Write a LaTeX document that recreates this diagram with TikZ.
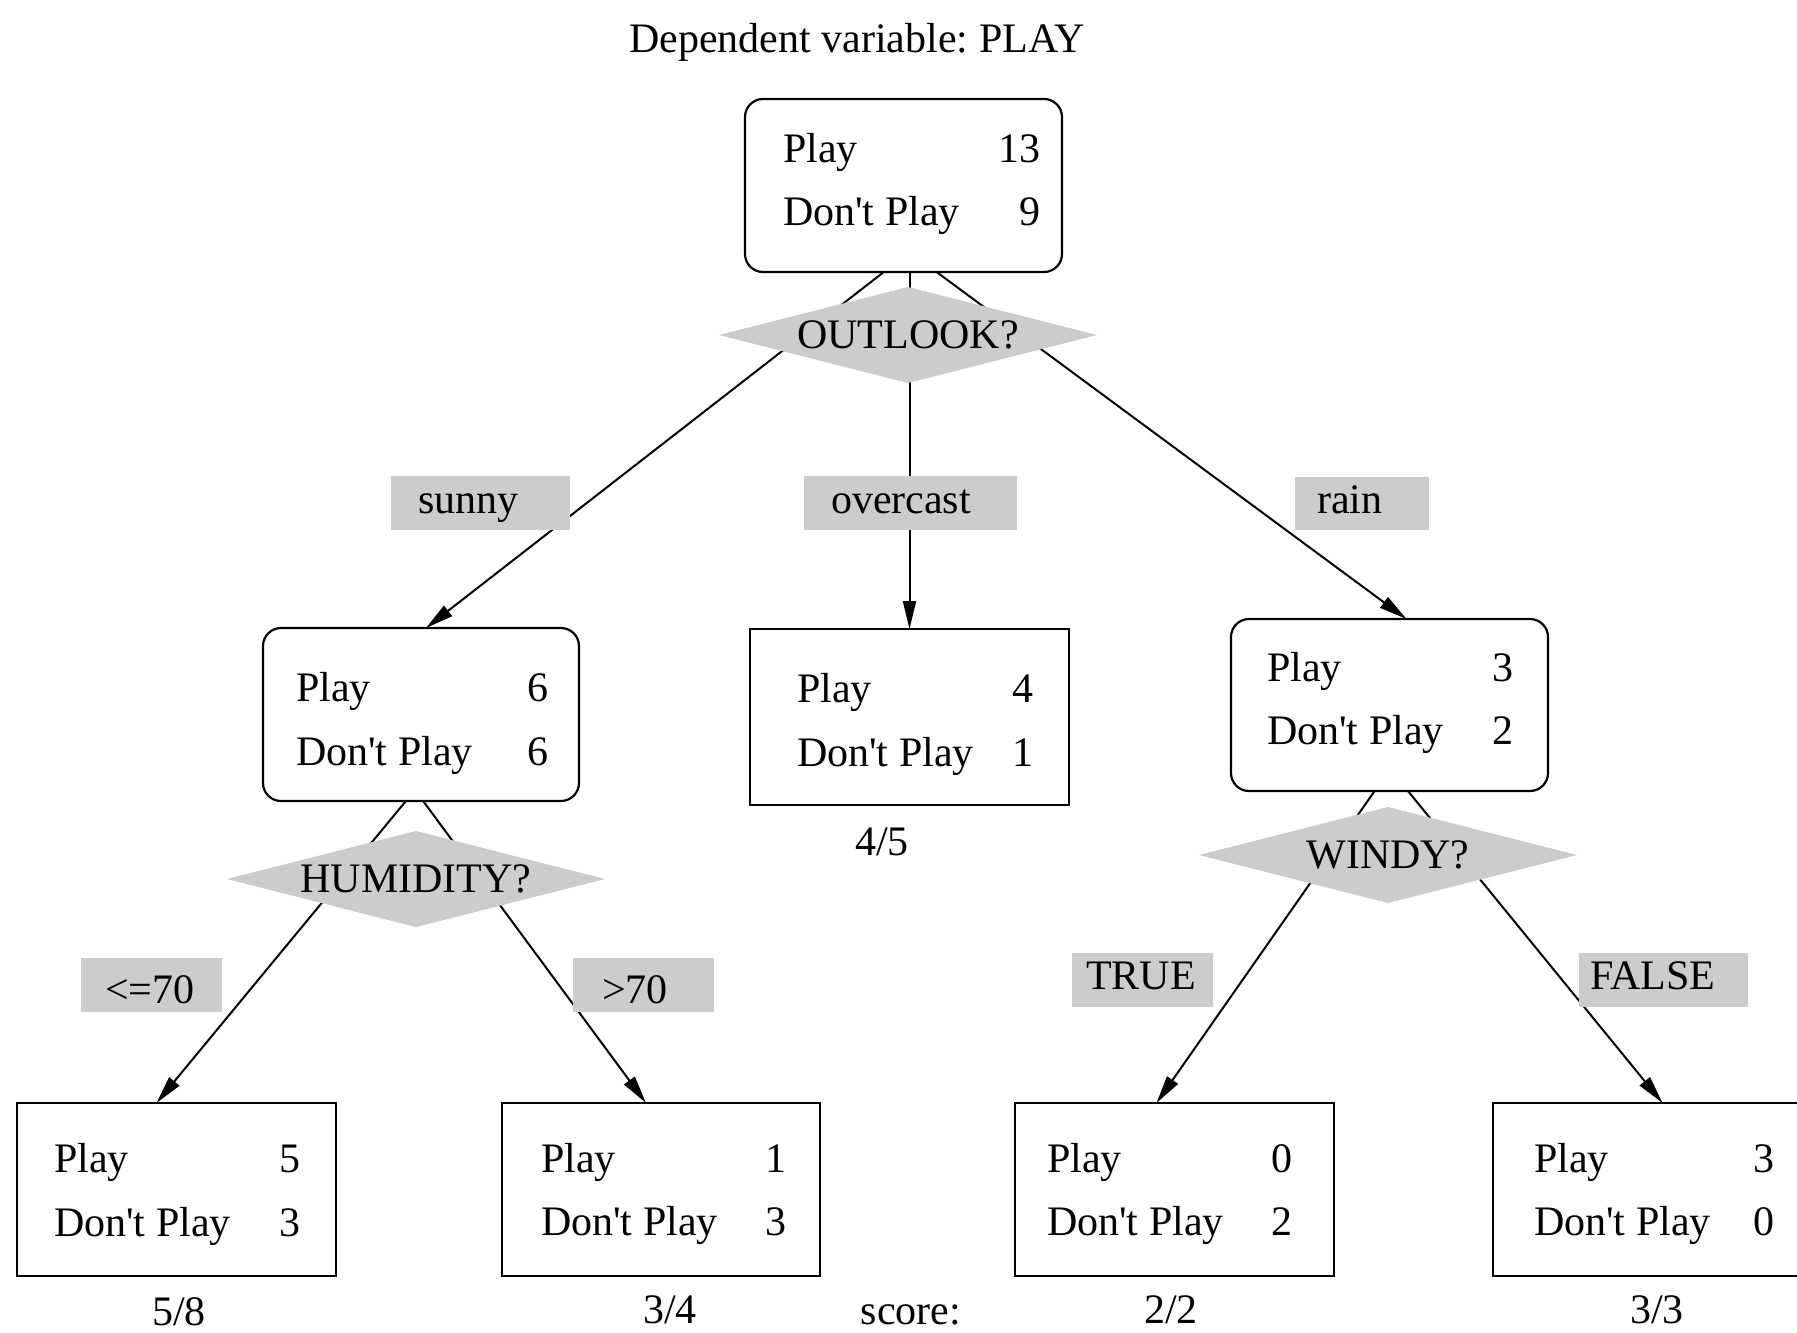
\documentclass[tikz,border=0pt]{standalone}
\usepackage{fontspec}
\setmainfont{Liberation Serif}[Ligatures=TeXOff]
\usetikzlibrary{arrows.meta,shapes.geometric,fit}
\pgfdeclarelayer{background}
\pgfsetlayers{background,main}
\definecolor{splitgray}{HTML}{CCCCCC}
\frenchspacing

% two rows of class counts inside a box: name, left x, right x, baseline 1, baseline 2, play, don't play
\newcommand\tallyrows[7]{%
  \node[txt, anchor=base west] (#1-p)  at (#2,#4) {Play};
  \node[txt, anchor=base east] (#1-pv) at (#3,#4) {#6};
  \node[txt, anchor=base west] (#1-d)  at (#2,#5) {Don't Play};
  \node[txt, anchor=base east] (#1-dv) at (#3,#5) {#7};
}

\begin{document}
\begin{tikzpicture}[x=1pt,y=-1pt,
  txt/.style={inner sep=0pt, outer sep=0pt, font=\fontsize{42pt}{50pt}\selectfont},
  inner/.style={draw=black, line width=2.2pt, fill=white, rounded corners=18pt, inner sep=0pt, outer sep=0pt},
  leaf/.style={draw=black, line width=2.2pt, fill=white, inner sep=0pt, outer sep=0pt},
  split/.style={diamond, aspect=3.94, fill=splitgray, draw=none, inner sep=0pt, outer sep=0pt,
    minimum width=378pt, minimum height=96pt, font=\fontsize{42pt}{50pt}\selectfont},
  branch/.style={fill=splitgray, draw=none, inner sep=0pt, outer sep=0pt},
  edge/.style={draw=black, line width=2pt, -{Triangle[length=28pt,width=13pt]}}]

\useasboundingbox (0,0) rectangle (1797,1333);
\clip (0,0) rectangle (1797,1333);
\begin{pgfonlayer}{background}
  \fill[white] (0,0) rectangle (1797,1333);
\end{pgfonlayer}

% title
\node[txt, anchor=base] (title) at (857,52) {Dependent variable: PLAY};

% boxes
\node[inner, fit={(745,99) (1062,272)}]   (root)     {};
\node[inner, fit={(263,628) (579,801)}]   (sunnyn)   {};
\node[leaf,  fit={(750,629) (1069,805)}]  (overn)    {};
\node[inner, fit={(1231,619) (1548,791)}] (rainn)    {};
\node[leaf,  fit={(17,1103) (336,1276)}]  (leafa)    {};
\node[leaf,  fit={(502,1103) (820,1276)}] (leafb)    {};
\node[leaf,  fit={(1015,1103) (1334,1276)}] (leafc)  {};
\node[leaf,  fit={(1493,1103) (1812,1276)}] (leafd)  {};

\tallyrows{root}{783}{1040}{162}{225}{13}{9}
\tallyrows{sunnyn}{296}{548}{701}{765}{6}{6}
\tallyrows{overn}{797}{1033}{702}{766}{4}{1}
\tallyrows{rainn}{1267}{1513}{681}{744}{3}{2}
\tallyrows{leafa}{54}{300}{1172}{1236}{5}{3}
\tallyrows{leafb}{541}{786}{1172}{1235}{1}{3}
\tallyrows{leafc}{1047}{1292}{1172}{1235}{0}{2}
\tallyrows{leafd}{1534}{1774}{1172}{1235}{3}{0}

% branching points inside the parent boxes
\coordinate (fork-root) at (909.5,252);
\coordinate (fork-sunny) at (415,790);
\coordinate (fork-rain) at (1390,769);

% split tests
\node[split] (q-outlook)  at (908,335) {OUTLOOK?};
\node[split] (q-humidity) at (416,879) {HUMIDITY?};
\node[split] (q-windy)    at (1388,855) {WINDY?};

% branch labels
\node[branch, fit={(391,476) (570,530)}]   (b-sunny) {};
\node[branch, fit={(804,476) (1017,530)}]  (b-over)  {};
\node[branch, fit={(1295,477) (1429,530)}] (b-rain)  {};
\node[branch, fit={(81,958) (222,1012)}]   (b-low)   {};
\node[branch, fit={(573,958) (714,1012)}]  (b-high)  {};
\node[branch, fit={(1072,953) (1213,1007)}] (b-true) {};
\node[branch, fit={(1579,953) (1748,1007)}] (b-false) {};
\node[txt, anchor=base west] (t-sunny) at (418,513) {sunny};
\node[txt, anchor=base west] (t-over)  at (831,513) {overcast};
\node[txt, anchor=base west] (t-rain)  at (1317,513) {rain};
\node[txt, anchor=base west] (t-low)   at (105,1003) {<=70};
\node[txt, anchor=base west] (t-high)  at (602,1003) {>70};
\node[txt, anchor=base west] (t-true)  at (1086,989) {TRUE};
\node[txt, anchor=base west] (t-false) at (1590,989) {FALSE};

% scores
\node[txt, anchor=base] (s-over) at (882,855) {4/5};
\node[txt, anchor=base] (s-a) at (179,1325) {5/8};
\node[txt, anchor=base] (s-b) at (670,1323) {3/4};
\node[txt, anchor=base] (s-lbl) at (911,1324) {score:};
\node[txt, anchor=base] (s-c) at (1171,1323) {2/2};
\node[txt, anchor=base] (s-d) at (1657,1323) {3/3};

% connectors, beneath boxes, tests and labels
\begin{pgfonlayer}{background}
  \draw[edge] (fork-root) -- ([xshift=5pt]sunnyn.north);
  \draw[edge] (fork-root) -- (overn.north);
  \draw[edge] (fork-root) -- ([xshift=17pt]rainn.north);
  \draw[edge] (fork-sunny) -- ([xshift=-20pt]leafa.north);
  \draw[edge] (fork-sunny) -- ([xshift=-15pt]leafb.north);
  \draw[edge] (fork-rain) -- ([xshift=-18pt]leafc.north);
  \draw[edge] (fork-rain) -- ([xshift=10pt]leafd.north);
\end{pgfonlayer}
\end{tikzpicture}
\end{document}
